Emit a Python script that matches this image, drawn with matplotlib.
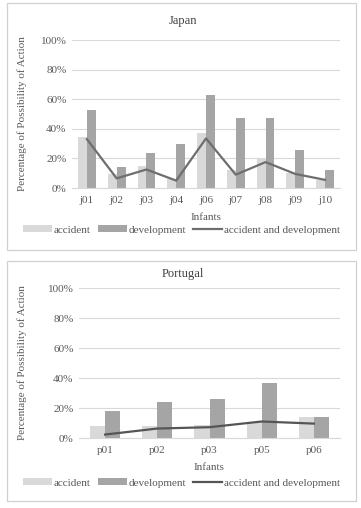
import numpy as np
import matplotlib.pyplot as plt
from matplotlib.patches import Rectangle
from matplotlib.ticker import PercentFormatter

plt.rcParams['font.family'] = ['Liberation Serif', 'DejaVu Serif']

# Japan data (percent)
jp_infants = ["j01", "j02", "j03", "j04", "j06", "j07", "j08", "j09", "j10"]
jp_accident = [34.5, 9.5, 15, 6, 37.5, 12.5, 20.5, 10, 5.5]
jp_development = [52.5, 14.5, 23.5, 29.5, 63, 47.5, 47, 25.5, 12.5]
jp_both = [33, 6.5, 12.5, 5, 33.5, 9, 17.5, 9.5, 5.5]

# Portugal data (percent)
pt_infants = ["p01", "p02", "p03", "p05", "p06"]
pt_accident = [8.3, 8.3, 9, 11, 13.7]
pt_development = [18.3, 23.8, 26.3, 36.4, 13.7]
pt_both = [2.3, 6.3, 7.2, 11, 9.6]

W, H = 361, 508
C_ACC = "#d9d9d9"
C_DEV = "#a5a5a5"
C_GRID = "#d9d9d9"


def box(x0, y0, x1, y1):
    # pixel box (top-left origin) -> figure fraction rect
    return [x0 / W, 1 - y1 / H, (x1 - x0) / W, (y1 - y0) / H]


def panel(fig, frame, ax_rect, title, infants, acc, dev, both, width,
          title_y, xlabel_y, legend_y, line_color):
    fx0, fy0, fx1, fy1 = frame
    fig.patches.append(Rectangle((fx0 / W, 1 - fy1 / H), (fx1 - fx0) / W,
                                 (fy1 - fy0) / H, transform=fig.transFigure,
                                 fill=False, edgecolor="#d0d0d0", lw=0.9))
    ax = fig.add_axes(box(*ax_rect))
    x = np.arange(len(infants))
    b1 = ax.bar(x - width / 2, acc, width, color=C_ACC, zorder=2,
                label="accident")
    b2 = ax.bar(x + width / 2, dev, width, color=C_DEV, zorder=2,
                label="development")
    l1, = ax.plot(x, both, color=line_color, lw=1.6, zorder=3,
                  label="accident and development")
    ax.set_ylim(0, 100)
    ax.set_xlim(-0.5, len(infants) - 0.5)
    ax.set_yticks(range(0, 101, 20))
    ax.yaxis.set_major_formatter(PercentFormatter(decimals=0))
    ax.set_xticks(x)
    ax.set_xticklabels(infants)
    ax.grid(axis="y", color=C_GRID, lw=0.8, zorder=0)
    for s in ["top", "right", "left"]:
        ax.spines[s].set_visible(False)
    ax.spines["bottom"].set_color(C_GRID)
    ax.tick_params(length=0, labelsize=8, colors="#595959", pad=4)
    ax.tick_params(axis="x", pad=6)
    ax.set_ylabel("Percentage of Possibility of Action", fontsize=8,
                  color="#595959")
    ax.yaxis.set_label_coords(-(ax_rect[0] - 27) / (ax_rect[2] - ax_rect[0]),
                              0.5)
    fig.text((fx0 + fx1) / 2 / W + 0.005, 1 - title_y / H, title,
             ha="center", va="center", fontsize=9, color="#404040")
    fig.text((ax_rect[0] + ax_rect[2]) / 2 / W, 1 - xlabel_y / H, "Infants",
             ha="center", va="center", fontsize=8, color="#595959")
    fig.legend(handles=[b1, b2, l1], loc="center",
               bbox_to_anchor=((fx0 + fx1) / 2 / W, 1 - legend_y / H),
               ncol=3, frameon=False, fontsize=8, handlelength=2.6,
               handleheight=0.6, handletextpad=0.2, columnspacing=0.6,
               labelcolor="#595959")
    return ax


fig = plt.figure(figsize=(W / 100, H / 100), dpi=100)

panel(fig, (7, 3, 356, 250), (72, 40, 340, 188), "Japan",
      jp_infants, jp_accident, jp_development, jp_both, 0.3,
      21, 218, 230, "#6e6e6e")
panel(fig, (7, 261, 356, 501), (79, 288, 340, 438), "Portugal",
      pt_infants, pt_accident, pt_development, pt_both, 0.29,
      274, 468, 483, "#555555")

fig.savefig("out.png", dpi=100)
